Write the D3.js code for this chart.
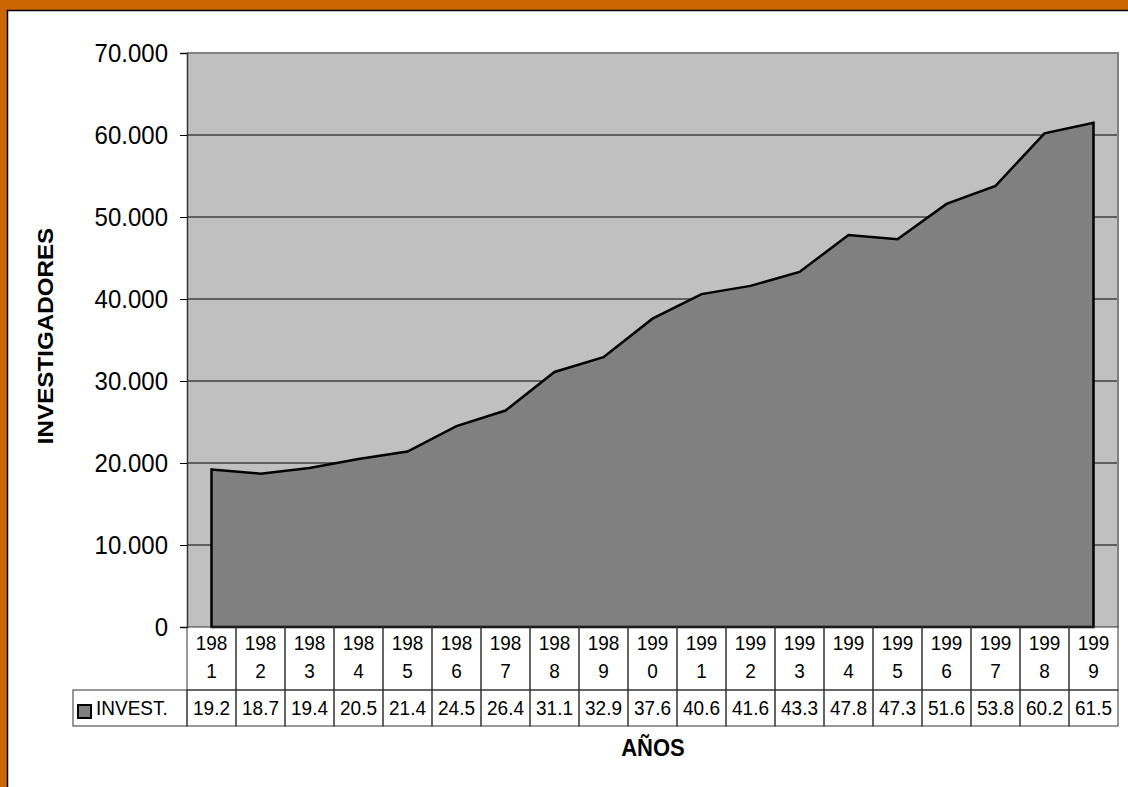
<!DOCTYPE html>
<html>
<head>
<meta charset="utf-8">
<script src="https://cdn.jsdelivr.net/npm/d3@7"></script>
<style>
	html, body { margin: 0; padding: 0; background: #fff; overflow: hidden; }
	svg { display: block; font-family: Arial, "Liberation Sans", sans-serif; }
</style>
</head>
<body>
<svg id="chart"></svg>
<script>
// data (investigadores, en miles)
const years = ['1981', '1982', '1983', '1984', '1985', '1986', '1987', '1988', '1989', '1990',
	'1991', '1992', '1993', '1994', '1995', '1996', '1997', '1998', '1999'];
const invest = [19.2, 18.7, 19.4, 20.5, 21.4, 24.5, 26.4, 31.1, 32.9, 37.6,
	40.6, 41.6, 43.3, 47.8, 47.3, 51.6, 53.8, 60.2, 61.5];
const yTicks = [0, 10, 20, 30, 40, 50, 60, 70];
const seriesName = 'INVEST.';
const yTitle = 'INVESTIGADORES';
const xTitle = 'AÑOS';

// dimension stuff
const W = 1128;
const H = 787;
const plotLeft = 187;
const plotRight = 1118;
const plotTop = 53;
const plotBottom = 627;
const yearRowBottom = 690;
const valueRowBottom = 726;
const tableLeft = 73;
// text in the original is slightly taller than it is wide
const STRETCH = 1.1;

const ORANGE = '#CC6600';
const PLOT_BG = '#C0C0C0';
const AREA = '#808080';

const locale = d3.formatLocale({ decimal: ',', thousands: '.', grouping: [3], currency: ['', ''] });
const fmtTick = v => (v === 0 ? '0' : locale.format(',.0f')(v * 1000));

const $svg = d3.select('#chart').attr('width', W).attr('height', H);

// helper: text placed at (x, y) and stretched vertically
function label($parent, x, y, str, size, anchor = 'middle', weight = 'normal') {
	return $parent.append('text')
		.attr('transform', `translate(${x},${y}) scale(1,${STRETCH})`)
		.attr('text-anchor', anchor)
		.attr('font-size', size)
		.attr('font-weight', weight)
		.attr('fill', '#000')
		.text(str);
}

// frame
$svg.append('rect').attr('width', W).attr('height', H).attr('fill', ORANGE);
$svg.append('rect')
	.attr('x', 7.5).attr('y', 10.5)
	.attr('width', W).attr('height', H)
	.attr('fill', '#fff').attr('stroke', '#000').attr('stroke-width', 1.5);

// scales
const scaleX = d3.scaleBand().domain(years).range([plotLeft, plotRight]);
const scaleY = d3.scaleLinear().domain([0, 70]).range([plotBottom, plotTop]);
const cx = d => scaleX(d) + scaleX.bandwidth() / 2;

// plot area
$svg.append('rect')
	.attr('x', plotLeft).attr('y', plotTop)
	.attr('width', plotRight - plotLeft).attr('height', plotBottom - plotTop)
	.attr('fill', PLOT_BG);

// gridlines
$svg.append('g').selectAll('line')
	.data(yTicks.filter(d => d > 0 && d < 70))
	.join('line')
	.attr('x1', plotLeft).attr('x2', plotRight)
	.attr('y1', d => scaleY(d)).attr('y2', d => scaleY(d))
	.attr('stroke', '#000').attr('stroke-width', 1);

// plot border
$svg.append('path')
	.attr('d', `M${plotLeft},${plotTop}H${plotRight}V${plotBottom}`)
	.attr('fill', 'none').attr('stroke', '#808080').attr('stroke-width', 2);

// area
const area = d3.area()
	.x((d, i) => cx(years[i]))
	.y0(scaleY(0))
	.y1(d => scaleY(d));

$svg.append('path')
	.datum(invest)
	.attr('d', area)
	.attr('fill', AREA)
	.attr('stroke', '#000')
	.attr('stroke-width', 2.5)
	.attr('stroke-linejoin', 'miter');

// y axis
const axisY = d3.axisLeft(scaleY)
	.tickValues(yTicks)
	.tickSize(7)
	.tickPadding(12)
	.tickFormat(fmtTick);

const $axisY = $svg.append('g')
	.attr('transform', `translate(${plotLeft},0)`)
	.call(axisY);
$axisY.select('.domain').attr('stroke', '#333').attr('stroke-width', 1.5);
$axisY.selectAll('.tick line').attr('stroke', '#000');
$axisY.selectAll('.tick text')
	.attr('transform', `scale(1,${STRETCH})`)
	.attr('font-size', 24)
	.attr('font-family', 'Arial, "Liberation Sans", sans-serif')
	.attr('fill', '#000');

// data table
const $table = $svg.append('g');
const cellStroke = '#333';

// year row
$table.selectAll('rect.year')
	.data(years)
	.join('rect')
	.attr('class', 'year')
	.attr('x', d => scaleX(d)).attr('y', plotBottom)
	.attr('width', scaleX.bandwidth()).attr('height', yearRowBottom - plotBottom)
	.attr('fill', 'none').attr('stroke', cellStroke).attr('stroke-width', 1);

years.forEach(d => {
	label($table, cx(d), 650, d.slice(0, 3), 19);
	label($table, cx(d), 678, d.slice(3), 19);
});

// value row
$table.append('rect')
	.attr('x', tableLeft).attr('y', yearRowBottom)
	.attr('width', plotLeft - tableLeft).attr('height', valueRowBottom - yearRowBottom)
	.attr('fill', 'none').attr('stroke', cellStroke).attr('stroke-width', 1);

$table.selectAll('rect.val')
	.data(years)
	.join('rect')
	.attr('class', 'val')
	.attr('x', d => scaleX(d)).attr('y', yearRowBottom)
	.attr('width', scaleX.bandwidth()).attr('height', valueRowBottom - yearRowBottom)
	.attr('fill', 'none').attr('stroke', cellStroke).attr('stroke-width', 1);

invest.forEach((d, i) => {
	label($table, cx(years[i]), 715, d3.format('.1f')(d), 19);
});

// legend key
$table.append('rect')
	.attr('x', 78).attr('y', 705)
	.attr('width', 13).attr('height', 13)
	.attr('fill', AREA).attr('stroke', '#000').attr('stroke-width', 2);

label($table, 96, 715, seriesName, 19, 'start');

// axis titles
$svg.append('text')
	.attr('transform', `translate(53,${(plotTop + plotBottom) / 2 - 4}) scale(1,${STRETCH}) rotate(-90)`)
	.attr('text-anchor', 'middle')
	.attr('font-size', 22)
	.attr('font-weight', 'bold')
	.text(yTitle);

label($svg, 653, 756, xTitle, 22, 'middle', 'bold');
</script>
</body>
</html>
